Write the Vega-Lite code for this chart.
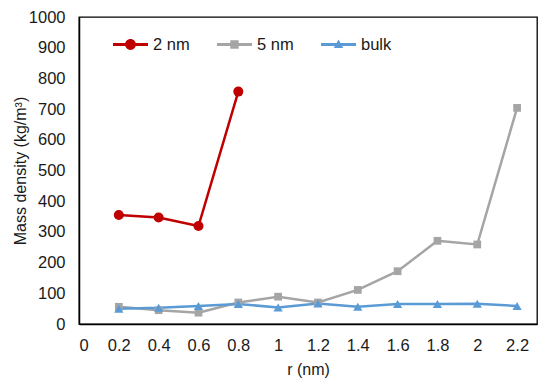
{
  "$schema": "https://vega.github.io/schema/vega-lite/v6.json",
  "width": 458,
  "height": 307,
  "autosize": {"type": "none"},
  "padding": {"left": 79, "top": 17, "right": 13, "bottom": 64},
  "background": "white",
  "config": {
    "view": {"stroke": "#000", "strokeWidth": 1.3},
    "font": "Liberation Sans",
    "axis": {"grid": false, "ticks": false, "domainColor": "#000", "domainWidth": 1.5, "labelColor": "#1a1a1a", "titleColor": "#1a1a1a", "labelFontSize": 16.5, "titleFontSize": 16, "titleFontWeight": "normal", "labelFont": "Liberation Sans", "titleFont": "Liberation Sans"}
  },
  "data": {
    "values": [
      {"r": 0.2, "v": 355, "s": "2 nm"},
      {"r": 0.4, "v": 347, "s": "2 nm"},
      {"r": 0.6, "v": 319, "s": "2 nm"},
      {"r": 0.8, "v": 757, "s": "2 nm"},
      {"r": 0.2, "v": 56, "s": "5 nm"},
      {"r": 0.4, "v": 45, "s": "5 nm"},
      {"r": 0.6, "v": 37, "s": "5 nm"},
      {"r": 0.8, "v": 70, "s": "5 nm"},
      {"r": 1.0, "v": 89, "s": "5 nm"},
      {"r": 1.2, "v": 70, "s": "5 nm"},
      {"r": 1.4, "v": 111, "s": "5 nm"},
      {"r": 1.6, "v": 172, "s": "5 nm"},
      {"r": 1.8, "v": 271, "s": "5 nm"},
      {"r": 2.0, "v": 259, "s": "5 nm"},
      {"r": 2.2, "v": 704, "s": "5 nm"},
      {"r": 0.2, "v": 50, "s": "bulk"},
      {"r": 0.4, "v": 53, "s": "bulk"},
      {"r": 0.6, "v": 59, "s": "bulk"},
      {"r": 0.8, "v": 65, "s": "bulk"},
      {"r": 1.0, "v": 54, "s": "bulk"},
      {"r": 1.2, "v": 67, "s": "bulk"},
      {"r": 1.4, "v": 56, "s": "bulk"},
      {"r": 1.6, "v": 65, "s": "bulk"},
      {"r": 1.8, "v": 65, "s": "bulk"},
      {"r": 2.0, "v": 66, "s": "bulk"},
      {"r": 2.2, "v": 59, "s": "bulk"}
    ]
  },
  "encoding": {
    "x": {"field": "r", "type": "quantitative", "scale": {"domain": [0, 2.3], "nice": false},
      "axis": {"values": [0, 0.2, 0.4, 0.6, 0.8, 1, 1.2, 1.4, 1.6, 1.8, 2, 2.2], "format": "~g", "labelPadding": 13, "title": "r (nm)", "titlePadding": 8}},
    "y": {"field": "v", "type": "quantitative", "scale": {"domain": [0, 1000], "nice": false},
      "axis": {"values": [0, 100, 200, 300, 400, 500, 600, 700, 800, 900, 1000], "format": "d", "labelPadding": 14, "title": "Mass density (kg/m³)", "titleX": -51}}
  },
  "layer": [
    {"transform": [{"filter": "datum.s === '2 nm'"}],
      "mark": {"type": "line", "strokeWidth": 2.5, "color": "#C00000"}, "encoding": {}},
    {"transform": [{"filter": "datum.s === '5 nm'"}],
      "mark": {"type": "line", "strokeWidth": 2.5, "color": "#A5A5A5"}, "encoding": {}},
    {"transform": [{"filter": "datum.s === 'bulk'"}],
      "mark": {"type": "line", "strokeWidth": 2.5, "color": "#5B9BD5"}, "encoding": {}},
    {"transform": [{"filter": "datum.s === '2 nm'"}],
      "mark": {"type": "point", "filled": true, "opacity": 1, "shape": "circle", "size": 100, "color": "#C00000"}},
    {"transform": [{"filter": "datum.s === '5 nm'"}],
      "mark": {"type": "point", "filled": true, "opacity": 1, "shape": "square", "size": 60, "color": "#A5A5A5"}},
    {"transform": [{"filter": "datum.s === 'bulk'"}],
      "mark": {"type": "point", "filled": true, "opacity": 1, "shape": "triangle-up", "size": 85, "color": "#5B9BD5"}},
    {"transform": [{"filter": "false"}],
      "mark": {"type": "point", "filled": true, "opacity": 1},
      "encoding": {
        "fill": {"field": "s", "type": "nominal",
          "scale": {"domain": ["2 nm", "5 nm", "bulk"], "range": ["#C00000", "#A5A5A5", "#5B9BD5"]},
          "legend": {"title": null, "orient": "none", "legendX": 34, "legendY": 10, "direction": "horizontal", "columnPadding": 27, "labelFontSize": 16.5, "labelColor": "#1a1a1a", "labelFont": "Liberation Sans", "labelOffset": 5, "symbolSize": 1225, "symbolStrokeWidth": 0}},
        "shape": {"field": "s", "type": "nominal",
          "scale": {"domain": ["2 nm", "5 nm", "bulk"], "range": [
            "M-1,-0.086L-0.25,-0.086L-0.25,0.086L-1,0.086Z M0.25,-0.086L1,-0.086L1,0.086L0.25,0.086Z M0.31,0A0.31,0.31 0 1,1 -0.31,0A0.31,0.31 0 1,1 0.31,0Z",
            "M-1,-0.086L1,-0.086L1,0.086L-1,0.086Z M-0.24,-0.24L0.24,-0.24L0.24,0.24L-0.24,0.24Z",
            "M-1,-0.086L1,-0.086L1,0.086L-1,0.086Z M0,-0.28L0.27,0.2L-0.27,0.2Z"
          ]},
          "legend": {"title": null, "orient": "none", "legendX": 34, "legendY": 10, "direction": "horizontal", "columnPadding": 27, "labelFontSize": 16.5, "labelColor": "#1a1a1a", "labelFont": "Liberation Sans", "labelOffset": 5, "symbolSize": 1225, "symbolStrokeWidth": 0}}
      }}
  ]
}
